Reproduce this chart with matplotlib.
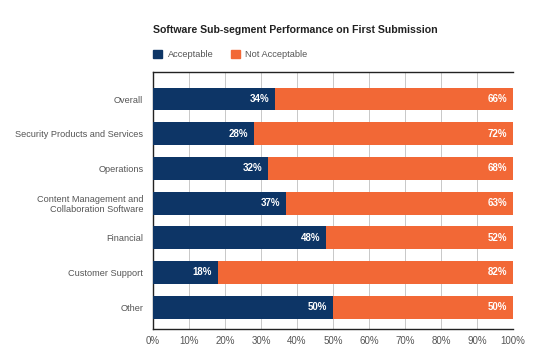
import matplotlib.pyplot as plt
import matplotlib.patches as mpatches
import numpy as np

plt.rcParams['font.family'] = ['Liberation Sans', 'DejaVu Sans']

# --- data ---------------------------------------------------------
categories = ["Overall", "Security Products and Services", "Operations",
              "Content Management and\nCollaboration Software", "Financial",
              "Customer Support", "Other"]
acceptable = [34, 28, 32, 37, 48, 18, 50]
not_acceptable = [66, 72, 68, 63, 52, 82, 50]

navy = "#0d3566"
orange = "#f26836"
grey_txt = "#555555"

fig = plt.figure(figsize=(5.38, 3.58), dpi=100)
ax = fig.add_axes([0.2844, 0.081, 0.6691, 0.718])

y = np.arange(len(categories))
h = 0.66
ax.barh(y, acceptable, height=h, color=navy, zorder=3)
ax.barh(y, not_acceptable, left=acceptable, height=h, color=orange, zorder=3)

# value labels inside the bar ends
for i in range(len(categories)):
    a = acceptable[i]
    n = not_acceptable[i]
    ax.text(a - 1.6, y[i], f"{a}%", ha="right", va="center", color="white",
            fontsize=7, fontweight="bold", zorder=4)
    ax.text(a + n - 1.6, y[i], f"{n}%", ha="right", va="center", color="white",
            fontsize=7, fontweight="bold", zorder=4)

ax.set_xlim(0, 100)
ax.set_ylim(6.63, -0.78)
ax.set_xticks(range(0, 101, 10))
ax.set_xticklabels([f"{v}%" for v in range(0, 101, 10)])
ax.set_yticks(y)
ax.set_yticklabels(categories, fontsize=6.6, color=grey_txt)
ax.tick_params(axis="x", labelsize=7, labelcolor=grey_txt, length=0, pad=5)
ax.tick_params(axis="y", length=0, pad=7)

ax.grid(axis="x", color="#c8c8c8", linewidth=0.7, zorder=0)
ax.spines["right"].set_visible(False)
for s in ["top", "left", "bottom"]:
    ax.spines[s].set_color("#222222")
    ax.spines[s].set_linewidth(1.0)

# title and legend above the plot
fig.text(0.2844, 0.915, "Software Sub-segment Performance on First Submission",
         fontsize=7.6, fontweight="bold", color="#222222", va="center")
leg = ax.legend(handles=[mpatches.Patch(color=navy, label="Acceptable"),
                         mpatches.Patch(color=orange, label="Not Acceptable")],
                loc="lower left", bbox_to_anchor=(-0.01, 1.035), ncol=2, frameon=False,
                fontsize=6.7, handlelength=0.95, handleheight=0.95, handletextpad=0.6,
                columnspacing=1.9, borderaxespad=0)
for t in leg.get_texts():
    t.set_color(grey_txt)

fig.savefig("out.png", dpi=100)
